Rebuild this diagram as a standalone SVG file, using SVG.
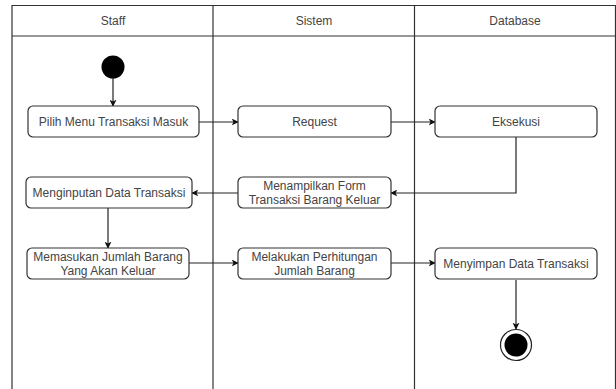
<svg xmlns="http://www.w3.org/2000/svg" width="616" height="389" viewBox="0 0 616 389">
  <style>
    .lane { fill: none; stroke: #333; stroke-width: 1.2; }
    .act { fill: #fff; stroke: #333; stroke-width: 1.2; }
    .lbl { font-family: "Liberation Sans", Arial, sans-serif; font-size: 12px; fill: #444; text-anchor: middle; }
    .edge { fill: none; stroke: #222; stroke-width: 1.2; }
  </style>
  <defs>
    <marker id="arrow" viewBox="0 0 10 10" refX="9" refY="5" markerWidth="7" markerHeight="7" markerUnits="userSpaceOnUse" orient="auto">
      <path d="M0,0 L10,5 L0,10 L2.5,5 Z" fill="#111"/>
    </marker>
  </defs>
  <rect width="616" height="389" fill="#fff"/>

  <!-- swimlanes -->
  <g id="lanes">
    <path class="lane" d="M12,389 V5.5 H615.5 V389"/>
    <path class="lane" d="M12,36 H615.5"/>
    <path class="lane" d="M213,5.5 V389"/>
    <path class="lane" d="M414.5,5.5 V389"/>
    <text class="lbl" x="113" y="25">Staff</text>
    <text class="lbl" x="314" y="25">Sistem</text>
    <text class="lbl" x="515" y="25">Database</text>
  </g>

  <!-- connectors -->
  <g id="connectors">
    <path class="edge" d="M113,78 V106" marker-end="url(#arrow)"/>
    <path class="edge" d="M199,122 H238" marker-end="url(#arrow)"/>
    <path class="edge" d="M391,122 H435" marker-end="url(#arrow)"/>
    <path class="edge" d="M516,137 V193 H391" marker-end="url(#arrow)"/>
    <path class="edge" d="M238,193 H192" marker-end="url(#arrow)"/>
    <path class="edge" d="M108,208 V248" marker-end="url(#arrow)"/>
    <path class="edge" d="M189,263 H238" marker-end="url(#arrow)"/>
    <path class="edge" d="M391,263 H435" marker-end="url(#arrow)"/>
    <path class="edge" d="M516,280 V329" marker-end="url(#arrow)"/>
  </g>

  <g id="start">
    <circle cx="113" cy="67" r="11.5" fill="#000"/>
  </g>

  <g id="pilih-menu">
    <rect class="act" x="28" y="106" width="171" height="31" rx="5"/>
    <text class="lbl" x="113.5" y="126">Pilih Menu Transaksi Masuk</text>
  </g>

  <g id="request">
    <rect class="act" x="238" y="106" width="153" height="31" rx="5"/>
    <text class="lbl" x="314.5" y="126">Request</text>
  </g>

  <g id="eksekusi">
    <rect class="act" x="435" y="106" width="162" height="31" rx="5"/>
    <text class="lbl" x="516" y="126">Eksekusi</text>
  </g>

  <g id="menampilkan-form">
    <rect class="act" x="238" y="177" width="153" height="31" rx="5"/>
    <text class="lbl" x="314.5" y="190">Menampilkan Form</text>
    <text class="lbl" x="314.5" y="204">Transaksi Barang Keluar</text>
  </g>

  <g id="menginputan-data">
    <rect class="act" x="26" y="177" width="166" height="31" rx="5"/>
    <text class="lbl" x="109" y="197">Menginputan Data Transaksi</text>
  </g>

  <g id="memasukan-jumlah">
    <rect class="act" x="27" y="248" width="162" height="31" rx="5"/>
    <text class="lbl" x="108" y="261">Memasukan Jumlah Barang</text>
    <text class="lbl" x="108" y="275">Yang Akan Keluar</text>
  </g>

  <g id="melakukan-perhitungan">
    <rect class="act" x="238" y="248" width="153" height="31" rx="5"/>
    <text class="lbl" x="314.5" y="261">Melakukan Perhitungan</text>
    <text class="lbl" x="314.5" y="275">Jumlah Barang</text>
  </g>

  <g id="menyimpan-data">
    <rect class="act" x="435" y="248" width="162" height="31" rx="5"/>
    <text class="lbl" x="516" y="268">Menyimpan Data Transaksi</text>
  </g>

  <g id="end">
    <circle cx="516" cy="345" r="15.5" fill="#fff" stroke="#222" stroke-width="1.2"/>
    <circle cx="516" cy="345" r="11.5" fill="#000"/>
  </g>
</svg>
